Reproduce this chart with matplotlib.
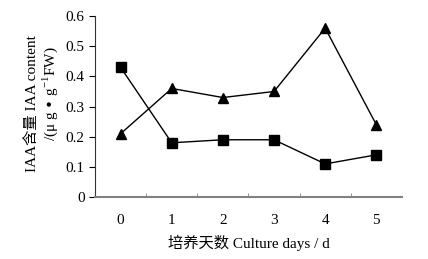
import matplotlib
matplotlib.use("Agg")
import matplotlib.pyplot as plt

days = [0, 1, 2, 3, 4, 5]
day_labels = ["0", "1", "2", "3", "4", "5"]
square_vals = [0.43, 0.18, 0.19, 0.19, 0.11, 0.14]
triangle_vals = [0.21, 0.36, 0.33, 0.35, 0.56, 0.24]
y_ticks = [0, 0.1, 0.2, 0.3, 0.4, 0.5, 0.6]
y_tick_labels = ["0", "0.1", "0.2", "0.3", "0.4", "0.5", "0.6"]

plt.rcParams['font.family'] = ['Liberation Serif', 'Noto Sans CJK SC']

fig = plt.figure(figsize=(4.28, 2.59), dpi=100)
ax = fig.add_axes([0.222, 0.239, 0.717, 0.699])

ax.plot(days, square_vals, color='black', lw=1.0, marker='s', markersize=7)
ax.plot(days, triangle_vals, color='black', lw=1.0, marker='^', markersize=7.5)

ax.set_xlim(-0.5, 5.5)
ax.set_ylim(0, 0.6)
ax.set_yticks(y_ticks)
ax.set_yticklabels(y_tick_labels, fontsize=11)
ax.set_xticks(days)
ax.set_xticklabels(day_labels, fontsize=11)
ax.tick_params(axis='x', length=0, pad=12)
ax.set_xticks([d + 0.5 for d in days[:-1]], minor=True)
ax.tick_params(axis='x', which='minor', direction='in', length=3, color='gray')
ax.tick_params(axis='y', direction='out', length=4, width=0.8)

ax.spines['top'].set_visible(False)
ax.spines['right'].set_visible(False)
ax.spines['bottom'].set_color('gray')
ax.spines['bottom'].set_linewidth(1.5)
ax.spines['left'].set_color('#333333')

ax.set_xlabel("培养天数 Culture days / d", fontsize=11, labelpad=6)
fig.text(0.074, 0.60, "IAA含量 IAA content", rotation=90, fontsize=11,
         ha='center', va='center')
fig.text(0.117, 0.637, r"/(μ g • g$^{\mathregular{-1}}$FW)", rotation=90, fontsize=11,
         ha='center', va='center')

fig.savefig("out.png", dpi=100)
